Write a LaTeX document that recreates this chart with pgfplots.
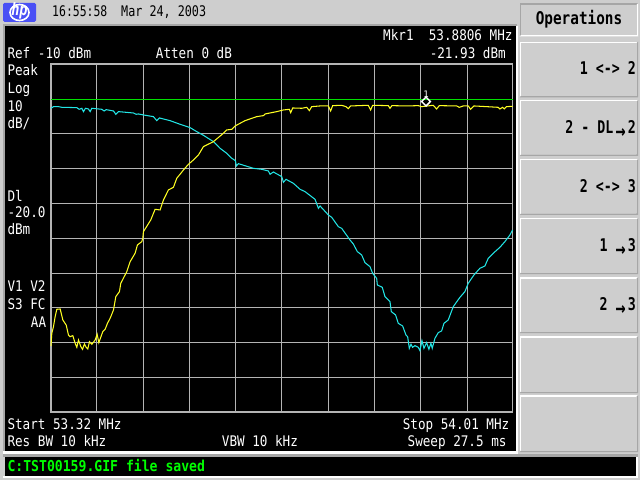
\documentclass[border=0pt]{standalone}
\usepackage{graphicx}
\usepackage{fontspec}
\setmainfont{DejaVu Sans Mono}
\usepackage{pgfplots}
\pgfplotsset{compat=1.18}
\definecolor{bgg}{HTML}{CECECE}
\definecolor{edge}{HTML}{A6A6A6}
\definecolor{gridg}{HTML}{B4B4B4}
\definecolor{tracec}{HTML}{22E6E6}
\definecolor{tracey}{HTML}{FFFF22}
\definecolor{dline}{HTML}{00E000}
\definecolor{hpblue}{HTML}{4A50F5}
\newcommand\wt[3]{\node[anchor=base west,inner sep=0pt,text=white] at (#1,#2) {\fontsize{14.6}{15}\selectfont\scalebox{0.865}[1]{#3}};}
\newcommand\we[3]{\node[anchor=base east,inner sep=0pt,text=white] at (#1,#2) {\fontsize{14.6}{15}\selectfont\scalebox{0.865}[1]{#3}};}
\newcommand\kt[2]{\node[anchor=base east,inner sep=0pt,text=black] at (636,#1) {\fontsize{17.5}{18}\selectfont\bfseries\scalebox{0.76}[1]{#2}};}
\newcommand\karr{\raisebox{-5pt}{\fontsize{22}{22}\selectfont →}}
\newcommand\softkey[2]{%
  \fill[white] (519.5,#1) rectangle (638,#2);
  \fill[edge] (519.5,#2) -- (638,#2) -- (638,#1) -- (636.5,#1+1.5) -- (636.5,#2-1.5) -- (521,#2-1.5) -- cycle;
  \fill[bgg] (521,#1+1.5) rectangle (636.5,#2-1.5);}
\begin{document}
\begin{tikzpicture}
\useasboundingbox (0,0) rectangle (640pt,480pt);
\fill[bgg] (0,0) rectangle (640pt,480pt);
\begin{scope}[x=1pt,y=-1pt,shift={(0pt,480pt)}]
  % screen
  \fill[edge] (3,24) rectangle (517,452);
  \fill[white] (3,451) rectangle (517,454);
  \fill[white] (516,26) rectangle (517.5,454);
  \fill[black] (5,26) rectangle (516,451);
  % message bar
  \fill[edge] (3,454) rectangle (638,457);
  \fill[white] (3,476) rectangle (638,478);
  \fill[white] (636,457) rectangle (638,478);
  \fill[black] (5,457) rectangle (636,476);
  \node[anchor=base west,inner sep=0pt,text={rgb,255:red,0;green,255;blue,0}] at (7.3,471.5) {\fontsize{15}{16}\selectfont\bfseries\scalebox{0.875}[1]{C:TST00159.GIF file saved}};
  % logo
  \fill[hpblue,rounded corners=1.5] (3,3) rectangle (36,22);
  \draw[white,line width=1.6] (19.5,12.5) ellipse (9.5 and 8);
  \node[inner sep=0pt,text=white] at (19.5,11) {\fontsize{17}{18}\selectfont\bfseries\itshape\scalebox{0.8}[1]{hp}};
  % header
  \node[anchor=base west,inner sep=0pt,text=black] at (52,16.7) {\fontsize{14.6}{15}\selectfont\scalebox{0.785}[1]{16:55:58}};
  \node[anchor=base west,inner sep=0pt,text=black] at (121,16.7) {\fontsize{14.6}{15}\selectfont\scalebox{0.805}[1]{Mar 24, 2003}};
  % soft keys
  \fill[edge] (519.5,3.3) rectangle (638,36.7);
  \fill[white] (519.5,36.7) -- (638,36.7) -- (638,3.3) -- (636.5,4.8) -- (636.5,35.2) -- (521,35.2) -- cycle;
  \fill[bgg] (521,4.8) rectangle (636.5,35.2);
  \softkey{41.7}{97.3}
  \softkey{100}{156}
  \softkey{159}{215}
  \softkey{218}{274}
  \softkey{277}{333}
  \softkey{336}{393}
  \softkey{395}{452}
  \node[anchor=base,inner sep=0pt,text=black] at (579,25) {\fontsize{17.5}{18}\selectfont\bfseries\scalebox{0.82}[1]{Operations}};
  \kt{75}{1 <-> 2}
  \kt{134}{2 - DL\,\karr\,2}
  \kt{192.7}{2 <-> 3}
  \kt{251.7}{1 \karr\,3}
  \kt{310.7}{2 \karr\,3}
  % screen annotations
  \wt{7.3}{59}{Ref -10 dBm}
  \wt{155.7}{59}{Atten 0 dB}
  \we{512.7}{40.7}{Mkr1\ \ 53.8806 MHz}
  \we{506}{59}{-21.93 dBm}
  \wt{7.3}{76}{Peak}
  \wt{7.3}{93.5}{Log}
  \wt{7.3}{111.5}{10}
  \wt{7.3}{129}{dB/}
  \wt{7.3}{201.5}{Dl}
  \wt{7.3}{217.5}{-20.0}
  \wt{7.3}{234.3}{dBm}
  \wt{7.3}{291.5}{V1 V2}
  \wt{7.3}{309.3}{S3 FC}
  \wt{30.7}{327.5}{AA}
  \wt{7.3}{429}{Start 53.32 MHz}
  \wt{7.3}{446.7}{Res BW 10 kHz}
  \wt{221.7}{446.7}{VBW 10 kHz}
  \we{509.5}{429}{Stop 54.01 MHz}
  \we{506.7}{446.7}{Sweep 27.5 ms}
\end{scope}
\begin{axis}[
  at={(51pt,67.7pt)},anchor=south west,
  scale only axis,width=461.6pt,height=348pt,
  xmin=53.32,xmax=54.01,ymin=-110,ymax=-10,
  xtick={53.3877,53.458,53.5263,53.5951,53.6639,53.7341,53.8029,53.8717,53.9419},
  ytick={-100,-90,-80,-70,-60,-50,-40,-30,-20},
  xticklabels={},yticklabels={},
  major tick length=0pt,
  grid=major,
  major grid style={gridg,line width=1pt},
  axis line style={gridg,line width=1.7pt},
  axis on top=false,
  clip=false,
]
\addplot[dline,line width=1.1pt,no marks] coordinates {(53.32,-20) (54.01,-20)};
\addplot[tracec,line width=1.05pt,no marks,sharp plot] table {
53.3200 -22.64
53.3237 -22.17
53.3312 -22.17
53.3362 -22.36
53.3586 -22.45
53.3621 -22.93
53.3661 -22.64
53.3686 -23.60
53.3715 -22.64
53.3760 -22.84
53.3785 -23.60
53.3810 -22.64
53.3959 -22.93
53.3994 -23.41
53.4024 -23.03
53.4134 -23.41
53.4169 -24.37
53.4208 -23.60
53.4432 -23.99
53.4472 -24.37
53.4507 -24.27
53.4582 -24.56
53.4731 -25.04
53.4781 -26.19
53.4821 -25.42
53.4980 -26.19
53.5130 -27.24
53.5279 -28.20
53.5379 -29.35
53.5478 -30.40
53.5628 -32.22
53.5727 -34.14
53.5827 -35.58
53.5902 -37.01
53.5956 -37.68
53.5971 -39.22
53.6001 -38.55
53.6225 -39.89
53.6350 -40.17
53.6449 -40.65
53.6474 -41.61
53.6524 -40.94
53.6649 -42.28
53.6674 -43.91
53.6713 -43.05
53.6823 -44.20
53.6923 -45.92
53.6997 -46.59
53.7147 -48.80
53.7197 -51.38
53.7222 -50.71
53.7346 -53.30
53.7396 -53.97
53.7495 -56.65
53.7545 -57.13
53.7670 -60.50
53.7719 -61.63
53.7779 -63.83
53.7844 -64.79
53.7893 -66.99
53.7968 -68.14
53.8008 -70.06
53.8068 -71.50
53.8078 -73.41
53.8152 -74.08
53.8192 -76.76
53.8267 -78.20
53.8287 -81.07
53.8351 -82.03
53.8391 -84.43
53.8456 -85.19
53.8506 -87.78
53.8531 -88.26
53.8556 -91.61
53.8581 -90.46
53.8605 -91.32
53.8640 -90.85
53.8690 -91.32
53.8715 -92.28
53.8745 -89.41
53.8775 -91.61
53.8815 -89.98
53.8849 -91.90
53.8879 -90.17
53.8899 -91.61
53.8939 -88.74
53.8989 -87.11
53.9039 -86.63
53.9074 -84.43
53.9138 -83.47
53.9213 -79.64
53.9313 -76.96
53.9387 -75.33
53.9437 -72.93
53.9522 -70.54
53.9611 -68.62
53.9686 -67.95
53.9736 -65.75
53.9811 -64.30
53.9910 -62.59
53.9985 -60.96
54.0060 -59.05
54.0100 -57.60
};
\addplot[tracey,line width=1.05pt,no marks,sharp plot] table {
53.3200 -90.94
53.3212 -87.30
53.3237 -85.39
53.3262 -82.51
53.3287 -80.40
53.3337 -80.31
53.3377 -83.47
53.3427 -84.91
53.3461 -87.78
53.3486 -88.26
53.3526 -87.97
53.3561 -90.18
53.3586 -91.32
53.3611 -89.22
53.3646 -91.13
53.3671 -91.90
53.3700 -90.37
53.3725 -91.32
53.3750 -91.80
53.3775 -89.70
53.3810 -90.46
53.3860 -89.22
53.3890 -87.59
53.3915 -89.98
53.3974 -86.82
53.4009 -86.15
53.4044 -84.43
53.4084 -82.99
53.4134 -80.60
53.4169 -76.76
53.4223 -75.33
53.4243 -72.93
53.4333 -69.58
53.4383 -66.71
53.4457 -64.30
53.4492 -61.92
53.4557 -60.96
53.4572 -60.00
53.4582 -58.09
53.4691 -54.73
53.4756 -51.67
53.4831 -51.86
53.4881 -48.99
53.4955 -46.11
53.5030 -45.35
53.5080 -42.76
53.5180 -40.37
53.5254 -38.74
53.5329 -37.49
53.5404 -36.06
53.5478 -33.66
53.5628 -32.22
53.5777 -29.83
53.5827 -28.87
53.5902 -28.68
53.5951 -27.72
53.6101 -26.19
53.6275 -25.04
53.6375 -24.75
53.6400 -24.27
53.6574 -23.60
53.6674 -23.12
53.6763 -22.93
53.6783 -23.89
53.6813 -22.55
53.6948 -22.64
53.7022 -22.36
53.7062 -23.31
53.7097 -22.17
53.7222 -21.97
53.7346 -21.97
53.7380 -23.41
53.7410 -21.88
53.7545 -21.78
53.7609 -22.17
53.7644 -22.74
53.7679 -21.97
53.7943 -21.78
53.7978 -23.12
53.8008 -21.78
53.8242 -21.88
53.8267 -22.64
53.8297 -21.88
53.8516 -21.97
53.8690 -21.88
53.8740 -22.17
53.8914 -21.78
53.8964 -22.84
53.9004 -21.88
53.9263 -21.97
53.9303 -22.36
53.9362 -21.97
53.9437 -21.97
53.9472 -22.93
53.9522 -21.97
53.9711 -22.17
53.9885 -22.36
53.9910 -22.84
53.9950 -22.36
53.9975 -22.84
54.0010 -22.17
54.0100 -22.07
};
\addplot[white,only marks,mark=diamond,mark size=4.4pt,line width=1.5pt,
  every mark/.append style={xscale=1.33,yshift=4.3pt,fill=black}]
  coordinates {(53.8806,-21.93)};
\node[anchor=base,inner sep=0pt,text=white,font=\fontsize{9}{10}\selectfont,yshift=8.6pt] at (axis cs:53.8806,-21.93) {1};
\end{axis}
\end{tikzpicture}
\end{document}
